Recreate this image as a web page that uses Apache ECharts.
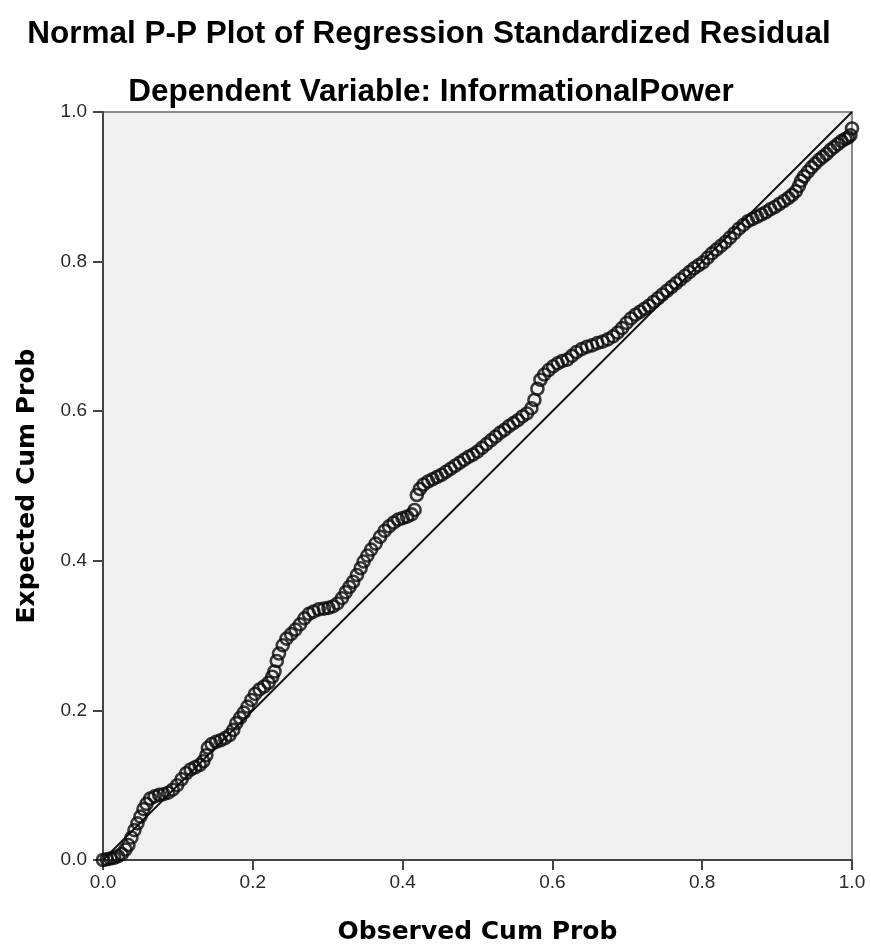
<!DOCTYPE html>
<html>
<head>
<meta charset="utf-8">
<script src="https://cdn.jsdelivr.net/npm/echarts@6/dist/echarts.min.js"></script>
<style>
  html, body { margin: 0; padding: 0; background: #ffffff; }
  #chart { width: 871px; height: 951px; }
</style>
</head>
<body>
<div id="chart"></div>
<script>
// observed cumulative probability (x)
var observedCum = [
  0.000, 0.005, 0.010, 0.015, 0.020, 0.025, 0.030, 0.034, 0.038, 0.042,
  0.046, 0.050, 0.054, 0.058, 0.063, 0.069, 0.075, 0.081, 0.087, 0.093,
  0.099, 0.105, 0.111, 0.117, 0.123, 0.129, 0.134, 0.138, 0.140, 0.145,
  0.151, 0.157, 0.163, 0.169, 0.174, 0.178, 0.183, 0.188, 0.193, 0.198,
  0.203, 0.209, 0.215, 0.221, 0.226, 0.229, 0.232, 0.235, 0.240, 0.245,
  0.251, 0.257, 0.263, 0.269, 0.275, 0.281, 0.288, 0.295, 0.301, 0.307,
  0.313, 0.319, 0.324, 0.329, 0.334, 0.339, 0.344, 0.348, 0.353, 0.358,
  0.364, 0.370, 0.376, 0.382, 0.388, 0.394, 0.400, 0.406, 0.412, 0.416,
  0.419, 0.423, 0.428, 0.434, 0.440, 0.446, 0.452, 0.458, 0.464, 0.470,
  0.476, 0.482, 0.488, 0.494, 0.500, 0.506, 0.512, 0.518, 0.524, 0.530,
  0.536, 0.542, 0.548, 0.554, 0.560, 0.566, 0.572, 0.576, 0.580, 0.584,
  0.589, 0.595, 0.601, 0.607, 0.613, 0.620, 0.626, 0.632, 0.639, 0.646,
  0.653, 0.660, 0.667, 0.674, 0.681, 0.687, 0.693, 0.699, 0.705, 0.711,
  0.717, 0.723, 0.729, 0.735, 0.741, 0.747, 0.753, 0.759, 0.765, 0.771,
  0.777, 0.783, 0.789, 0.795, 0.801, 0.807, 0.813, 0.819, 0.825, 0.831,
  0.837, 0.843, 0.849, 0.855, 0.861, 0.867, 0.873, 0.879, 0.885, 0.891,
  0.897, 0.903, 0.909, 0.915, 0.920, 0.925, 0.929, 0.932, 0.936, 0.941,
  0.946, 0.951, 0.956, 0.961, 0.966, 0.971, 0.976, 0.981, 0.986, 0.991,
  0.995, 0.998, 1.000
];
// expected cumulative probability (y)
var expectedCum = [
  0.000, 0.001, 0.002, 0.003, 0.005, 0.008, 0.014, 0.020, 0.030, 0.040,
  0.049, 0.058, 0.068, 0.075, 0.082, 0.085, 0.087, 0.088, 0.090, 0.094,
  0.100, 0.108, 0.116, 0.121, 0.124, 0.127, 0.132, 0.140, 0.150, 0.155,
  0.158, 0.160, 0.163, 0.167, 0.174, 0.183, 0.190, 0.197, 0.205, 0.214,
  0.222, 0.228, 0.232, 0.237, 0.245, 0.252, 0.266, 0.276, 0.287, 0.296,
  0.302, 0.308, 0.315, 0.323, 0.329, 0.332, 0.335, 0.336, 0.337, 0.339,
  0.343, 0.350, 0.358, 0.365, 0.372, 0.381, 0.390, 0.399, 0.407, 0.415,
  0.423, 0.432, 0.440, 0.446, 0.451, 0.455, 0.457, 0.459, 0.462, 0.468,
  0.488, 0.496, 0.502, 0.506, 0.509, 0.512, 0.515, 0.519, 0.523, 0.527,
  0.531, 0.535, 0.539, 0.542, 0.546, 0.551, 0.556, 0.561, 0.566, 0.571,
  0.575, 0.580, 0.584, 0.588, 0.593, 0.597, 0.604, 0.615, 0.630, 0.642,
  0.649, 0.655, 0.660, 0.664, 0.667, 0.669, 0.674, 0.679, 0.683, 0.686,
  0.688, 0.691, 0.693, 0.696, 0.700, 0.705, 0.711, 0.718, 0.724, 0.729,
  0.733, 0.737, 0.741, 0.746, 0.751, 0.756, 0.761, 0.766, 0.771, 0.776,
  0.781, 0.786, 0.791, 0.795, 0.799, 0.805, 0.811, 0.816, 0.821, 0.826,
  0.832, 0.838, 0.844, 0.849, 0.854, 0.857, 0.860, 0.863, 0.866, 0.870,
  0.873, 0.877, 0.881, 0.885, 0.889, 0.894, 0.901, 0.908, 0.914, 0.920,
  0.926, 0.931, 0.936, 0.940, 0.944, 0.949, 0.953, 0.957, 0.961, 0.964,
  0.966, 0.969, 0.978
];
// diagonal reference line
var refX = [0, 1];
var refY = [0, 1];

var chartTitle = 'Normal P-P Plot of Regression Standardized Residual';
var chartSubtitle = 'Dependent Variable: InformationalPower';
var xName = 'Observed Cum Prob';
var yName = 'Expected Cum Prob';

var points = observedCum.map(function (x, i) { return [x, expectedCum[i]]; });
var refLine = refX.map(function (x, i) { return [x, refY[i]]; });

var chart = echarts.init(document.getElementById('chart'), null, { renderer: 'canvas' });

var tickLabel = { fontFamily: 'Liberation Sans', fontSize: 19, color: '#2a2a2a' };

var option = {
  animation: false,
  backgroundColor: '#ffffff',
  title: [
    {
      text: chartTitle, left: 424, top: 13, textAlign: 'center',
      textStyle: { fontFamily: 'Liberation Sans', fontWeight: 'bold', fontSize: 31.5, color: '#000' }
    },
    {
      text: chartSubtitle, left: 426, top: 71, textAlign: 'center',
      textStyle: { fontFamily: 'Liberation Sans', fontWeight: 'bold', fontSize: 31.5, color: '#000' }
    }
  ],
  grid: {
    left: 103, top: 112, right: 19, bottom: 91,
    show: true,
    backgroundColor: '#f0f0f0',
    borderColor: '#8a8a8a',
    borderWidth: 2
  },
  xAxis: {
    type: 'value', min: 0, max: 1, interval: 0.2,
    name: xName, nameLocation: 'middle', nameGap: 60,
    nameTextStyle: { fontFamily: 'DejaVu Sans', fontWeight: 'bold', fontSize: 25, color: '#000' },
    axisLine: { show: true, lineStyle: { color: '#444', width: 2 } },
    axisTick: { show: true, inside: false, length: 10, lineStyle: { color: '#444', width: 2 } },
    axisLabel: Object.assign({ margin: 13, formatter: function (v) { return v.toFixed(1); } }, tickLabel),
    splitLine: { show: false }
  },
  yAxis: {
    type: 'value', min: 0, max: 1, interval: 0.2,
    name: yName, nameLocation: 'middle', nameGap: 63,
    nameTextStyle: { fontFamily: 'DejaVu Sans', fontWeight: 'bold', fontSize: 25, color: '#000' },
    axisLine: { show: true, lineStyle: { color: '#444', width: 2 } },
    axisTick: { show: true, inside: false, length: 10, lineStyle: { color: '#444', width: 2 } },
    axisLabel: Object.assign({ margin: 16, formatter: function (v) { return v.toFixed(1); } }, tickLabel),
    splitLine: { show: false }
  },
  series: [
    {
      type: 'line',
      data: refLine,
      symbol: 'none',
      lineStyle: { color: '#111', width: 1.8 },
      z: 2,
      silent: true
    },
    {
      type: 'scatter',
      data: points,
      symbol: 'circle',
      symbolSize: 12,
      itemStyle: { color: 'rgba(0,0,0,0)', borderColor: '#0a0a0a', borderWidth: 2.6 },
      z: 3
    }
  ]
};

chart.setOption(option);
</script>
</body>
</html>
